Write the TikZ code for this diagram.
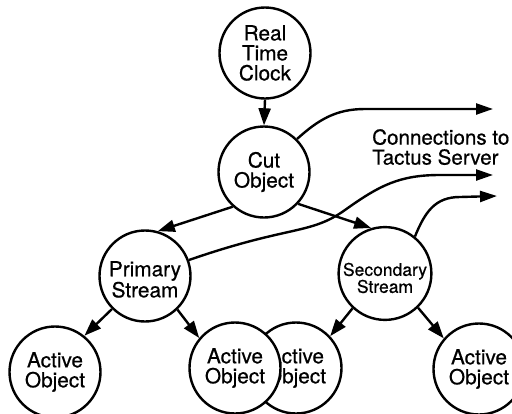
\documentclass[tikz,border=0pt]{standalone}
\usepackage{fontspec}
\setmainfont{TeX Gyre Heros}[FakeBold=0.6]
\usetikzlibrary{arrows.meta}
\begin{document}
\begin{tikzpicture}[x=1pt,y=-1pt,
  obj/.style={circle, draw, line width=2.4pt, minimum size=91pt, inner sep=0pt,
    align=center, font=\fontsize{20.8}{20}\selectfont, fill=white},
  link/.style={line width=2.4pt, -{Triangle[length=17pt,width=12pt]}},
  conn/.style={line width=2.4pt, -{Triangle[length=17pt,width=11pt]}},
  lbl/.style={anchor=north west, inner sep=0pt, align=left,
    font=\fontsize{20.6}{20}\selectfont}]
\useasboundingbox (0,0) rectangle (512,413);
\node[obj] (rtc) at (265,53) {Real\\Time\\Clock};
\node[obj] (cut) at (264,172) {Cut\\Object};
\node[obj] (prim) at (145,276) {\rule{0pt}{22pt}Primary\\Stream};
\node[obj, font=\fontsize{17.5}{17}\selectfont] (sec) at (385,273.5) {\rule{0pt}{22pt}Secondary\\Stream};
\node[obj] (ao1) at (55,372) {Active\\Object};
\node[obj] (ao3) at (296,368) {Active\\Object};
\node[obj] (ao2) at (235,368) {Active\\Object};
\node[obj] (ao4) at (479,369) {Active\\Object};
\node[lbl] (label) at (372,129) {Connections to\\Tactus Server};
\coordinate (c1) at (493,109);
\coordinate (c2) at (493,175);
\coordinate (c3) at (497,196);
\draw[link] (rtc.south) -- (cut.north);
\draw[link] (cut.228) -- (prim.74);
\draw[link] (cut.317) -- (sec.107);
\draw[link] (prim.225) -- (ao1.51);
\draw[link] (prim.314) -- (ao2.140);
\draw[link] (sec.227) -- (ao3.43);
\draw[link] (sec.314) -- (ao4.139);
\draw[conn] (cut.45) to[out=42,in=180] (365,109) -- (c1);
\draw[conn] (prim.20) .. controls (290,225) and (310,235) .. (345,210)
  .. controls (380,185) and (400,175) .. (440,175) -- (c2);
\draw[conn] (sec.51) .. controls (425,212) and (435,197) .. (460,197) -- (c3);
\end{tikzpicture}
\end{document}
